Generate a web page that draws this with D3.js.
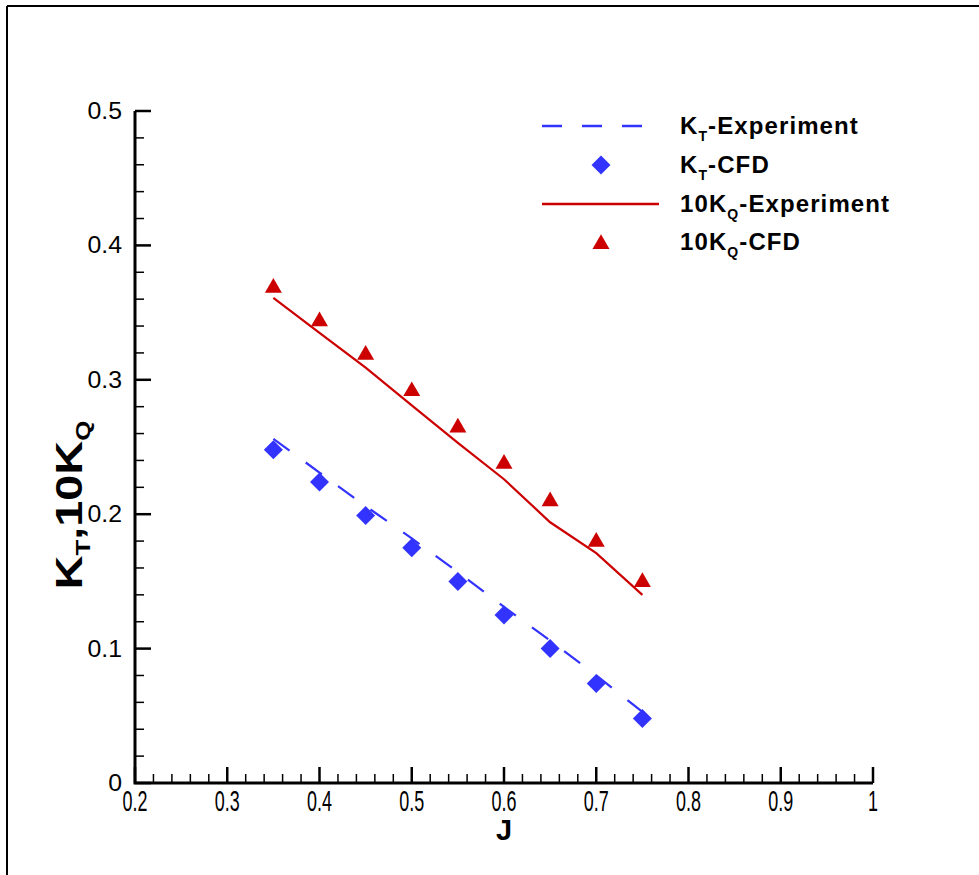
<!DOCTYPE html>
<html>
<head>
<meta charset="utf-8">
<script src="https://cdn.jsdelivr.net/npm/d3@7"></script>
<style>
  body { margin: 0; background: #fff; }
  svg { display: block; }
  text { font-family: "Liberation Sans", Arial, Helvetica, sans-serif; }
</style>
</head>
<body>
<svg id="chart" width="979" height="875"></svg>
<script>
// advance coefficient J
var jValues = [0.35, 0.40, 0.45, 0.50, 0.55, 0.60, 0.65, 0.70, 0.75];
// thrust coefficient
var ktExperiment = [0.256, 0.231, 0.206, 0.182, 0.157, 0.131, 0.106, 0.080, 0.053];
var ktCfd        = [0.248, 0.224, 0.199, 0.175, 0.150, 0.125, 0.100, 0.074, 0.048];
// 10 x torque coefficient
var kq10Experiment = [0.361, 0.335, 0.309, 0.281, 0.253, 0.226, 0.194, 0.171, 0.140];
var kq10Cfd        = [0.370, 0.345, 0.320, 0.293, 0.266, 0.239, 0.211, 0.181, 0.151];

var xTickValues = [0.2, 0.3, 0.4, 0.5, 0.6, 0.7, 0.8, 0.9, 1];
var xTickLabels = ["0.2", "0.3", "0.4", "0.5", "0.6", "0.7", "0.8", "0.9", "1"];
var yTickValues = [0, 0.1, 0.2, 0.3, 0.4, 0.5];
var yTickLabels = ["0", "0.1", "0.2", "0.3", "0.4", "0.5"];

var blue = "#3333ff",
    red = "#cc0000";

var svg = d3.select("#chart");

// outer frame (only top and left edges show)
svg.append("line").attr("x1", 7).attr("y1", 6).attr("x2", 979).attr("y2", 6)
    .attr("stroke", "#000").attr("stroke-width", 2);
svg.append("line").attr("x1", 7).attr("y1", 6).attr("x2", 7).attr("y2", 875)
    .attr("stroke", "#000").attr("stroke-width", 2);

var x = d3.scaleLinear().domain([0.2, 1]).range([135, 873]);
var y = d3.scaleLinear().domain([0, 0.5]).range([783, 111]);

// minor ticks every 0.02
var xMinor = d3.range(0.2, 1.0001, 0.02).filter(function (d) {
    return Math.abs(d * 10 - Math.round(d * 10)) > 1e-6;
});
var yMinor = d3.range(0, 0.5001, 0.02).filter(function (d) {
    return Math.abs(d * 10 - Math.round(d * 10)) > 1e-6;
});

var axes = svg.append("g");

axes.selectAll(".xminor").data(xMinor).enter()
  .append("line")
    .attr("x1", function (d) { return x(d); })
    .attr("x2", function (d) { return x(d); })
    .attr("y1", y(0))
    .attr("y2", y(0) - 9)
    .attr("stroke", "#000").attr("stroke-width", 1.5);

axes.selectAll(".xmajor").data(xTickValues).enter()
  .append("line")
    .attr("x1", function (d) { return x(d); })
    .attr("x2", function (d) { return x(d); })
    .attr("y1", y(0))
    .attr("y2", y(0) - 16)
    .attr("stroke", "#000").attr("stroke-width", 2.5);

axes.selectAll(".yminor").data(yMinor).enter()
  .append("line")
    .attr("y1", function (d) { return y(d); })
    .attr("y2", function (d) { return y(d); })
    .attr("x1", x(0.2))
    .attr("x2", x(0.2) + 9)
    .attr("stroke", "#000").attr("stroke-width", 1.5);

axes.selectAll(".ymajor").data(yTickValues).enter()
  .append("line")
    .attr("y1", function (d) { return y(d); })
    .attr("y2", function (d) { return y(d); })
    .attr("x1", x(0.2))
    .attr("x2", x(0.2) + 16)
    .attr("stroke", "#000").attr("stroke-width", 2.5);

axes.append("path")
    .attr("d", "M" + x(0.2) + "," + y(0.5) + "V" + y(0) + "H" + x(1))
    .attr("fill", "none").attr("stroke", "#000").attr("stroke-width", 3);

// tick labels
axes.selectAll(".xlab").data(xTickValues).enter()
  .append("text")
    .attr("transform", function (d) { return "translate(" + x(d) + "," + (y(0) + 28) + ") scale(0.62,1)"; })
    .attr("text-anchor", "middle")
    .attr("font-size", 29)
    .text(function (d, i) { return xTickLabels[i]; });

axes.selectAll(".ylab").data(yTickValues).enter()
  .append("text")
    .attr("transform", function (d) { return "translate(" + (x(0.2) - 13) + "," + (y(d) + 8) + ") scale(1.08,1)"; })
    .attr("text-anchor", "end")
    .attr("font-size", 23)
    .text(function (d, i) { return yTickLabels[i]; });

// axis titles
svg.append("text")
    .attr("x", (x(0.2) + x(1)) / 2)
    .attr("y", 840)
    .attr("text-anchor", "middle")
    .attr("font-size", 29)
    .attr("font-weight", "bold")
    .text("J");

var yTitle = svg.append("text")
    .attr("transform", "translate(82,505) rotate(-90) scale(1.3,1)")
    .attr("text-anchor", "middle")
    .attr("font-size", 36)
    .attr("font-weight", "bold");
yTitle.append("tspan").text("K");
yTitle.append("tspan").attr("font-size", 20).attr("dy", 8).text("T");
yTitle.append("tspan").attr("dy", -8).text(",10K");
yTitle.append("tspan").attr("font-size", 20).attr("dy", 8).text("Q");

// series
var seriesLine = d3.line()
    .x(function (d, i) { return x(jValues[i]); })
    .y(function (d) { return y(d); });

var plot = svg.append("g");

plot.append("path")
    .datum(ktExperiment)
    .attr("d", seriesLine)
    .attr("fill", "none")
    .attr("stroke", blue)
    .attr("stroke-width", 2.2)
    .attr("stroke-dasharray", "20,20");

plot.append("path")
    .datum(kq10Experiment)
    .attr("d", seriesLine)
    .attr("fill", "none")
    .attr("stroke", red)
    .attr("stroke-width", 2.2);

var diamond = d3.symbol().type(d3.symbolSquare).size(180);
var triangle = d3.symbol().type(d3.symbolTriangle).size(125);

plot.selectAll(".kt-cfd").data(ktCfd).enter()
  .append("path")
    .attr("d", diamond)
    .attr("transform", function (d, i) {
        return "translate(" + x(jValues[i]) + "," + y(d) + ") rotate(45)";
    })
    .attr("fill", blue);

plot.selectAll(".kq-cfd").data(kq10Cfd).enter()
  .append("path")
    .attr("d", triangle)
    .attr("transform", function (d, i) {
        return "translate(" + x(jValues[i]) + "," + (y(d) + 2) + ")";
    })
    .attr("fill", red);

// legend
var legend = svg.append("g");
var legendRows = [
    { main: "K", sub: "T", rest: "-Experiment", y: 126 },
    { main: "K", sub: "T", rest: "-CFD", y: 165 },
    { main: "10K", sub: "Q", rest: "-Experiment", y: 204 },
    { main: "10K", sub: "Q", rest: "-CFD", y: 242 }
];

legend.append("line")
    .attr("x1", 542).attr("x2", 642).attr("y1", 126).attr("y2", 126)
    .attr("stroke", blue).attr("stroke-width", 2.5).attr("stroke-dasharray", "20,20");
legend.append("path")
    .attr("d", diamond)
    .attr("transform", "translate(601,165) rotate(45)")
    .attr("fill", blue);
legend.append("line")
    .attr("x1", 542).attr("x2", 659).attr("y1", 204).attr("y2", 204)
    .attr("stroke", red).attr("stroke-width", 2.5);
legend.append("path")
    .attr("d", triangle)
    .attr("transform", "translate(601,244)")
    .attr("fill", red);

legendRows.forEach(function (r) {
    var t = legend.append("text")
        .attr("x", 680)
        .attr("y", r.y + 8)
        .attr("font-size", 24)
        .attr("font-weight", "bold")
        .attr("letter-spacing", 1.1);
    t.append("tspan").text(r.main);
    t.append("tspan").attr("font-size", 14).attr("dy", 7).text(r.sub);
    t.append("tspan").attr("dy", -7).text(r.rest);
});
</script>
</body>
</html>
